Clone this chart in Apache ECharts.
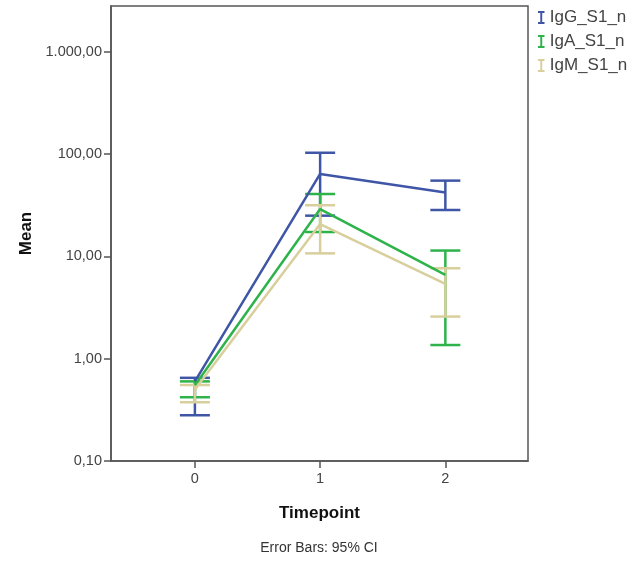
<!DOCTYPE html>
<html>
<head>
<meta charset="utf-8">
<script src="https://cdn.jsdelivr.net/npm/echarts@6/dist/echarts.min.js"></script>
<style>
  html, body { margin: 0; padding: 0; background: #fff; }
  #chart { width: 638px; height: 561px; }
</style>
</head>
<body>
<div id="chart"></div>
<script>
// timepoints on the x axis
var timepoints = [0, 1, 2];
var yTicks = [0.1, 1, 10, 100, 1000];

// group means and 95% CI bounds
var igG_mean = [0.6, 64, 42];
var igG_low  = [0.28, 25, 28.4];
var igG_high = [0.65, 103, 55];

var igA_mean = [0.55, 29, 6.6];
var igA_low  = [0.42, 17.3, 1.36];
var igA_high = [0.6, 40.7, 11.4];

var igM_mean = [0.5, 20.7, 5.4];
var igM_low  = [0.375, 10.7, 2.58];
var igM_high = [0.553, 31.6, 7.65];

var names = ['IgG_S1_n', 'IgA_S1_n', 'IgM_S1_n'];
var colors = ['#3f56a6', '#2eb34b', '#d8cf9c'];

var chart = echarts.init(document.getElementById('chart'));

function fmtNum(v) {
    // 1000 -> 1.000,00
    var parts = v.toFixed(2).split('.');
    var intPart = parts[0].replace(/\B(?=(\d{3})+(?!\d))/g, '.');
    return intPart + ',' + parts[1];
}

function lineSeries(name, color, means) {
    return {
        name: name,
        type: 'line',
        symbol: 'none',
        data: timepoints.map(function (t, i) { return [t, means[i]]; }),
        lineStyle: { color: color, width: 2.5 },
        itemStyle: { color: color },
        z: 3
    };
}

function barSeries(name, color, low, high) {
    return {
        name: name + ' CI',
        type: 'custom',
        data: timepoints.map(function (t, i) { return [t, low[i], high[i]]; }),
        renderItem: function (params, api) {
            var lo = api.coord([api.value(0), api.value(1)]);
            var hi = api.coord([api.value(0), api.value(2)]);
            var half = 15;
            var st = { stroke: color, lineWidth: 2.5 };
            return {
                type: 'group',
                children: [
                    { type: 'line', shape: { x1: lo[0], y1: lo[1], x2: hi[0], y2: hi[1] }, style: st },
                    { type: 'line', shape: { x1: lo[0] - half, y1: lo[1], x2: lo[0] + half, y2: lo[1] }, style: st },
                    { type: 'line', shape: { x1: hi[0] - half, y1: hi[1], x2: hi[0] + half, y2: hi[1] }, style: st }
                ]
            };
        },
        z: 2
    };
}

var iconPath = 'path://M0,0 H10 V3 H6.5 V17 H10 V20 H0 V17 H3.5 V3 H0 Z';

var option = {
    backgroundColor: '#fff',
    animation: false,
    textStyle: { fontFamily: 'Liberation Sans, Arial, sans-serif' },
    grid: {
        left: 111, top: 6, right: 110, bottom: 100,
        show: true, borderColor: '#555', borderWidth: 1.5
    },
    legend: {
        orient: 'vertical',
        left: 533, top: 4,
        itemWidth: 7, itemHeight: 13, itemGap: 7,
        textStyle: { fontSize: 17, color: '#444', padding: [0, 0, 0, 0] },
        data: names.map(function (n, i) {
            return { name: n, icon: iconPath, itemStyle: { color: colors[i] } };
        })
    },
    xAxis: {
        type: 'value',
        min: -0.67, max: 2.66,
        name: 'Timepoint',
        nameLocation: 'middle',
        nameGap: 44,
        nameTextStyle: { fontSize: 17, fontWeight: 'bold', color: '#111' },
        axisLine: { lineStyle: { color: '#555', width: 1.5 } },
        axisTick: { length: 7, lineStyle: { color: '#555', width: 1.5 }, customValues: timepoints },
        axisLabel: { fontSize: 14.5, color: '#444', margin: 10, customValues: timepoints },
        splitLine: { show: false }
    },
    yAxis: {
        type: 'log',
        logBase: 10,
        min: 0.1, max: 2800,
        name: 'Mean',
        nameLocation: 'middle',
        nameGap: 74,
        nameTextStyle: { fontSize: 17, fontWeight: 'bold', color: '#111' },
        axisLine: { show: true, onZero: false, lineStyle: { color: '#555', width: 1.5 } },
        axisTick: { show: true, length: 7, lineStyle: { color: '#555', width: 1.5 }, customValues: yTicks },
        axisLabel: {
            fontSize: 14.5, color: '#444', margin: 9, customValues: yTicks,
            formatter: function (v) { return fmtNum(v); }
        },
        splitLine: { show: false }
    },
    graphic: [{
        type: 'text',
        left: 'center',
        top: 541,
        style: { text: 'Error Bars: 95% CI', fontSize: 14, fill: '#333', fontFamily: 'Liberation Sans, Arial, sans-serif' }
    }],
    series: [
        barSeries(names[0], colors[0], igG_low, igG_high),
        barSeries(names[1], colors[1], igA_low, igA_high),
        barSeries(names[2], colors[2], igM_low, igM_high),
        lineSeries(names[0], colors[0], igG_mean),
        lineSeries(names[1], colors[1], igA_mean),
        lineSeries(names[2], colors[2], igM_mean)
    ]
};

chart.setOption(option);
</script>
</body>
</html>
